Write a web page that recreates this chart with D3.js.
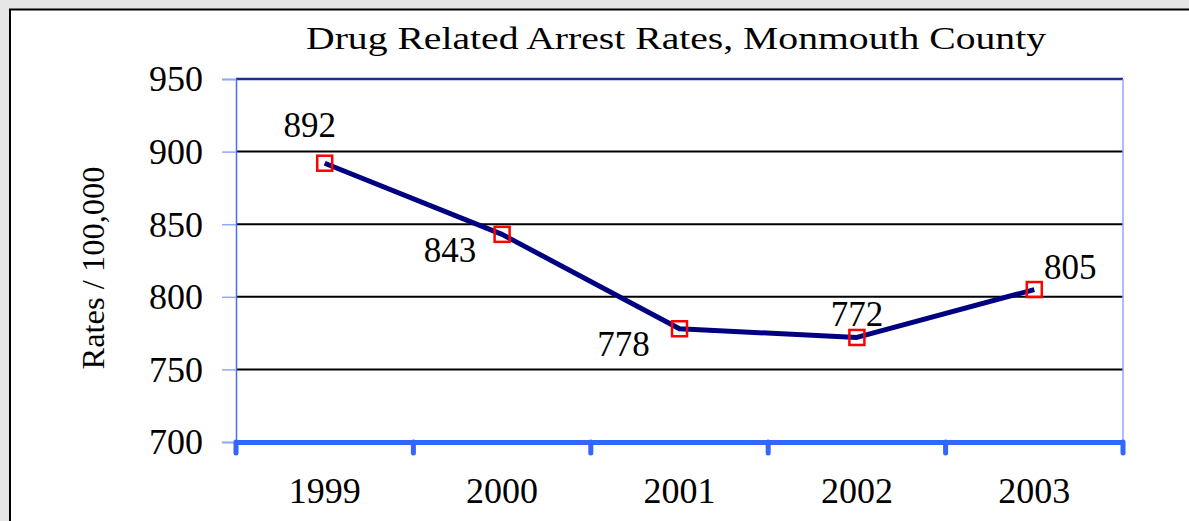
<!DOCTYPE html>
<html>
<head>
<meta charset="utf-8">
<script src="https://cdn.jsdelivr.net/npm/d3@7"></script>
<style>
  body { margin: 0; background: #e6e6e6; }
  svg { display: block; }
</style>
</head>
<body>
<div id="grafica"></div>
<script>
// data
var years = ["1999", "2000", "2001", "2002", "2003"];
var rates = [892, 843, 778, 772, 805];
var yTicks = [700, 750, 800, 850, 900, 950];
var chartTitle = "Drug Related Arrest Rates,  Monmouth County";
var yTitle = "Rates / 100,000";

// label nudges around each point (dx, dy to baseline)
var labelNudge = [[-15, -26], [-52, 28], [-56, 27], [0, -11], [36, -11]];

var serif = "'Liberation Serif', 'Times New Roman', serif";

var W = 1189, H = 521;
var margin = { top: 79, right: 66, bottom: 79, left: 236 },
  width = W - margin.left - margin.right,
  height = 442 - margin.top;

var root = d3.select("#grafica")
  .append("svg")
  .attr("width", W)
  .attr("height", H)
  .attr("font-family", serif);

// white sheet with black frame (runs off the right / bottom)
root.append("rect")
  .attr("x", 10).attr("y", 9.5)
  .attr("width", W + 20).attr("height", H + 20)
  .style("fill", "white")
  .style("stroke", "black")
  .style("stroke-width", 2);

var svg = root.append("g")
  .attr("transform", "translate(" + margin.left + "," + margin.top + ")");

// scales
var x = d3.scaleBand().domain(years).range([0, width]);
var y = d3.scaleLinear().domain([700, 950]).range([height, 0]);

// gridlines
svg.selectAll(".grid")
  .data(yTicks.filter(function (d) { return d > 700 && d < 950; }))
  .enter()
  .append("line")
  .attr("x1", 0).attr("x2", width)
  .attr("y1", function (d) { return y(d); })
  .attr("y2", function (d) { return y(d); })
  .style("stroke", "black")
  .style("stroke-width", 2);

// top border of the plot
svg.append("line")
  .attr("x1", 0).attr("x2", width)
  .attr("y1", y(950)).attr("y2", y(950))
  .style("stroke", "#1f2d8a")
  .style("stroke-width", 2.5);

// right border
svg.append("line")
  .attr("x1", width).attr("x2", width)
  .attr("y1", 0).attr("y2", height)
  .style("stroke", "#8ea8ff")
  .style("stroke-width", 1.5);

// Y axis
var yAxis = svg.append("g")
  .call(d3.axisLeft(y).tickValues(yTicks).tickSize(14).tickFormat(d3.format("d")))
  .attr("font-family", serif)
  .attr("font-size", 36);
yAxis.select(".domain").style("stroke", "#4a6cf0").style("stroke-width", 1.5);
yAxis.selectAll(".tick line").style("stroke", "#8ea8ff").style("stroke-width", 1.5);
yAxis.selectAll(".tick text")
  .attr("x", -33)
  .attr("dy", "0.33em")
  .style("fill", "black");

// X axis
var xAxis = svg.append("g")
  .attr("transform", "translate(0," + height + ")")
  .call(d3.axisBottom(x).tickSize(0))
  .attr("font-family", serif)
  .attr("font-size", 36);
xAxis.select(".domain").style("stroke", "#3366ff").style("stroke-width", 5);
xAxis.selectAll(".tick text")
  .attr("y", 61)
  .attr("dy", 0)
  .style("fill", "black");

// x ticks between categories
var xEdges = years.map(function (d) { return x(d); }).concat([width]);
svg.selectAll(".xtick")
  .data(xEdges)
  .enter()
  .append("line")
  .attr("x1", function (d) { return d; })
  .attr("x2", function (d) { return d; })
  .attr("y1", height)
  .attr("y2", height + 11)
  .style("stroke", "#3366ff")
  .style("stroke-width", 5)
  .style("stroke-linecap", "round");

// line
var cx = function (d, i) { return x(years[i]) + x.bandwidth() / 2; };
var line = d3.line()
  .x(cx)
  .y(function (d) { return y(d); });

svg.append("path")
  .datum(rates)
  .attr("d", line)
  .style("fill", "none")
  .style("stroke", "#000080")
  .style("stroke-width", 5)
  .style("stroke-linejoin", "round");

// markers
var ms = 15;
svg.selectAll(".marker")
  .data(rates)
  .enter()
  .append("rect")
  .attr("x", function (d, i) { return cx(d, i) - ms / 2; })
  .attr("y", function (d) { return y(d) - ms / 2; })
  .attr("width", ms)
  .attr("height", ms)
  .style("fill", "none")
  .style("stroke", "#ff0000")
  .style("stroke-width", 2.5);

// data labels
svg.selectAll(".lbl")
  .data(rates)
  .enter()
  .append("text")
  .attr("x", function (d, i) { return cx(d, i) + labelNudge[i][0]; })
  .attr("y", function (d, i) { return y(d) + labelNudge[i][1]; })
  .attr("text-anchor", "middle")
  .attr("font-family", serif)
  .attr("font-size", 35)
  .text(function (d) { return d; });

// title
root.append("text")
  .attr("x", 676)
  .attr("y", 49)
  .attr("text-anchor", "middle")
  .attr("textLength", 740)
  .attr("lengthAdjust", "spacingAndGlyphs")
  .attr("font-family", serif)
  .attr("font-size", 32)
  .text(chartTitle);

// Y title
root.append("text")
  .attr("transform", "translate(104,268) rotate(-90)")
  .attr("text-anchor", "middle")
  .attr("textLength", 203)
  .attr("lengthAdjust", "spacingAndGlyphs")
  .attr("font-family", serif)
  .attr("font-size", 32)
  .text(yTitle);
</script>
</body>
</html>
